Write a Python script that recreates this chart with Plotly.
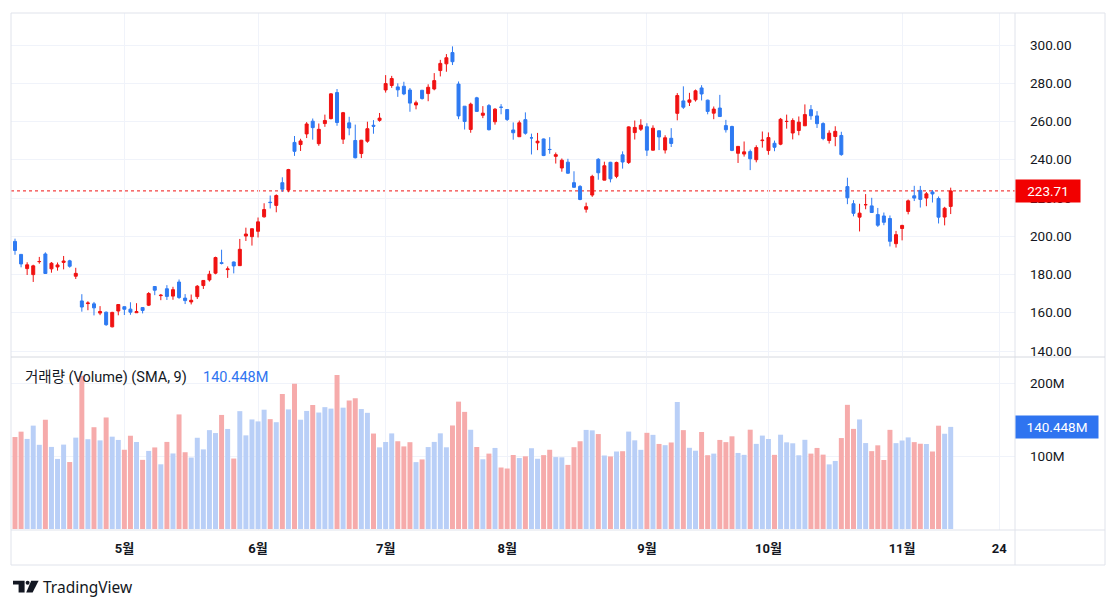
import plotly.graph_objects as go

# daily bars, 2023-04-04 .. 2023-11-13
dates = [
    "2023-04-04", "2023-04-05", "2023-04-06", "2023-04-10", "2023-04-11", "2023-04-12", "2023-04-13",
    "2023-04-14", "2023-04-17", "2023-04-18", "2023-04-19", "2023-04-20", "2023-04-21", "2023-04-24",
    "2023-04-25", "2023-04-26", "2023-04-27", "2023-04-28",
    "2023-05-01", "2023-05-02", "2023-05-03", "2023-05-04", "2023-05-05", "2023-05-08", "2023-05-09",
    "2023-05-10", "2023-05-11", "2023-05-12", "2023-05-15", "2023-05-16", "2023-05-17", "2023-05-18",
    "2023-05-19", "2023-05-22", "2023-05-23", "2023-05-24", "2023-05-25", "2023-05-26", "2023-05-30",
    "2023-05-31",
    "2023-06-01", "2023-06-02", "2023-06-05", "2023-06-06", "2023-06-07", "2023-06-08", "2023-06-09",
    "2023-06-12", "2023-06-13", "2023-06-14", "2023-06-15", "2023-06-16", "2023-06-20", "2023-06-21",
    "2023-06-22", "2023-06-23", "2023-06-26", "2023-06-27", "2023-06-28", "2023-06-29", "2023-06-30",
    "2023-07-03", "2023-07-05", "2023-07-06", "2023-07-07", "2023-07-10", "2023-07-11", "2023-07-12",
    "2023-07-13", "2023-07-14", "2023-07-17", "2023-07-18", "2023-07-19", "2023-07-20", "2023-07-21",
    "2023-07-24", "2023-07-25", "2023-07-26", "2023-07-27", "2023-07-28", "2023-07-31",
    "2023-08-01", "2023-08-02", "2023-08-03", "2023-08-04", "2023-08-07", "2023-08-08", "2023-08-09",
    "2023-08-10", "2023-08-11", "2023-08-14", "2023-08-15", "2023-08-16", "2023-08-17", "2023-08-18",
    "2023-08-21", "2023-08-22", "2023-08-23", "2023-08-24", "2023-08-25", "2023-08-28", "2023-08-29",
    "2023-08-30", "2023-08-31",
    "2023-09-01", "2023-09-05", "2023-09-06", "2023-09-07", "2023-09-08", "2023-09-11", "2023-09-12",
    "2023-09-13", "2023-09-14", "2023-09-15", "2023-09-18", "2023-09-19", "2023-09-20", "2023-09-21",
    "2023-09-22", "2023-09-25", "2023-09-26", "2023-09-27", "2023-09-28", "2023-09-29",
    "2023-10-02", "2023-10-03", "2023-10-04", "2023-10-05", "2023-10-06", "2023-10-09", "2023-10-10",
    "2023-10-11", "2023-10-12", "2023-10-13", "2023-10-16", "2023-10-17", "2023-10-18", "2023-10-19",
    "2023-10-20", "2023-10-23", "2023-10-24", "2023-10-25", "2023-10-26", "2023-10-27", "2023-10-30",
    "2023-10-31",
    "2023-11-01", "2023-11-02", "2023-11-03", "2023-11-06", "2023-11-07", "2023-11-08", "2023-11-09",
    "2023-11-10", "2023-11-13",
]

opens = [
    197.32, 190.52, 183.08, 179.94, 186.69, 190.74, 182.96, 183.95, 186.32, 187.15, 179.10, 166.17,
    164.80, 164.65, 159.82, 160.29, 152.64, 160.90,
    163.17, 161.88, 160.01, 162.71, 163.97, 173.72, 168.95, 172.55, 168.70, 176.07, 167.66, 165.65,
    168.41, 174.22, 177.17, 180.70, 186.20, 182.56, 186.54, 184.62, 200.10, 199.78,
    202.59, 210.15, 217.80, 216.14, 228.00, 224.22, 249.07, 247.94, 253.51, 260.17, 248.40, 258.92,
    261.50, 275.13, 250.77, 259.29, 250.07, 243.24, 249.70, 258.03, 260.60,
    276.49, 278.82, 278.09, 278.43, 276.47, 268.65, 276.33, 274.59, 277.01, 286.63, 290.15, 296.04,
    279.56, 268.00, 255.85, 272.38, 263.25, 268.31, 259.86, 267.48,
    266.26, 255.57, 252.04, 260.97, 251.45, 248.84, 250.87, 245.40, 241.77, 235.70, 238.73, 228.02,
    226.06, 214.12, 221.55, 240.25, 229.34, 238.66, 231.31, 242.58, 238.58, 254.20, 255.98,
    257.26, 245.00, 255.14, 245.07, 251.22, 264.27, 270.76, 270.07, 271.32, 277.55, 271.16, 264.35,
    267.04, 257.85, 257.40, 243.38, 242.98, 244.26, 240.02, 250.00,
    244.81, 248.61, 248.14, 260.00, 253.98, 255.31, 257.75, 266.20, 262.92, 258.90, 250.05, 252.14,
    252.70, 225.95, 217.01, 210.00, 216.50, 215.88, 211.32, 210.60, 209.28, 196.12,
    204.04, 212.97, 221.15, 223.98, 219.98, 223.15, 219.75, 210.03, 215.60,
]

highs = [
    198.74, 190.68, 186.39, 185.10, 189.19, 191.58, 186.50, 186.28, 189.69, 187.69, 183.50, 169.70,
    166.00, 165.65, 163.47, 160.67, 160.48, 164.33,
    163.28, 165.49, 165.00, 162.95, 170.79, 173.80, 169.82, 174.43, 173.57, 177.38, 169.76, 169.52,
    174.50, 177.06, 181.95, 189.32, 192.96, 184.22, 186.78, 198.60, 204.48, 203.95,
    209.80, 217.25, 221.29, 221.91, 230.83, 235.23, 252.42, 250.97, 259.68, 261.57, 258.95, 263.60,
    274.75, 276.99, 265.00, 262.45, 258.37, 250.39, 259.88, 260.74, 264.45,
    284.25, 283.85, 279.97, 280.78, 277.52, 270.90, 276.52, 279.45, 285.30, 292.23, 295.26, 299.29,
    280.93, 268.00, 269.85, 272.90, 268.04, 269.13, 267.00, 269.08,
    266.47, 259.52, 260.49, 264.77, 253.65, 254.03, 251.10, 251.80, 243.79, 240.66, 240.50, 233.97,
    226.74, 217.58, 232.13, 240.82, 238.98, 238.92, 239.00, 244.38, 257.48, 260.51, 261.18,
    259.08, 258.00, 255.39, 252.81, 256.52, 274.85, 278.39, 274.98, 276.71, 278.98, 271.44, 267.85,
    273.93, 260.86, 257.79, 247.10, 249.55, 245.33, 247.55, 254.77,
    254.28, 250.02, 261.86, 263.60, 261.65, 262.63, 268.94, 268.60, 265.41, 259.60, 255.40, 257.51,
    254.63, 230.61, 218.86, 216.98, 222.05, 220.10, 214.80, 212.41, 210.88, 202.80,
    205.99, 219.20, 226.37, 226.32, 223.12, 224.15, 220.80, 215.38, 225.40,
]

lows = [
    190.32, 183.76, 179.74, 176.11, 185.65, 180.31, 180.94, 182.01, 182.69, 183.58, 177.65, 160.56,
    161.32, 158.61, 158.75, 153.14, 152.37, 158.66,
    158.83, 158.93, 159.91, 159.65, 163.51, 169.19, 166.56, 166.68, 166.79, 167.23, 164.55, 164.35,
    167.19, 172.45, 176.31, 180.11, 185.26, 178.22, 180.58, 184.53, 197.53, 195.12,
    199.37, 209.75, 214.52, 212.53, 223.20, 223.01, 242.02, 244.59, 251.34, 250.50, 247.29, 257.21,
    261.12, 257.78, 248.25, 252.80, 240.70, 240.85, 248.89, 253.61, 259.89,
    275.11, 277.60, 272.88, 273.77, 265.10, 266.37, 271.46, 270.60, 276.31, 283.57, 286.01, 289.52,
    261.20, 255.80, 254.12, 265.00, 261.75, 255.30, 258.34, 263.78,
    260.25, 250.49, 252.00, 253.11, 242.76, 245.03, 241.90, 243.13, 238.02, 233.75, 232.61, 225.38,
    218.83, 212.36, 220.58, 229.55, 229.29, 228.18, 230.35, 235.35, 237.77, 250.59, 255.05,
    242.01, 244.86, 245.06, 243.27, 246.67, 260.61, 266.60, 268.10, 270.42, 271.00, 263.76, 261.20,
    262.46, 254.21, 244.48, 238.31, 241.66, 234.58, 238.65, 246.35,
    242.62, 244.45, 247.60, 256.25, 250.65, 252.81, 257.65, 260.90, 256.63, 250.22, 248.48, 247.08,
    242.08, 216.78, 210.42, 202.51, 214.11, 212.20, 204.88, 205.77, 194.67, 194.07,
    197.85, 211.45, 218.40, 215.00, 215.72, 217.64, 206.68, 205.69, 211.61,
]

closes = [
    192.58, 185.52, 185.06, 184.51, 186.79, 180.54, 185.90, 185.00, 187.04, 184.31, 180.59, 162.99,
    165.08, 162.55, 160.67, 153.75, 160.19, 164.31,
    161.83, 160.31, 160.61, 161.20, 170.06, 171.79, 169.15, 168.54, 172.08, 167.98, 166.35, 166.52,
    173.86, 176.89, 180.14, 188.87, 185.77, 182.90, 184.47, 193.17, 201.16, 203.93,
    207.52, 213.97, 217.61, 221.31, 224.57, 234.86, 244.40, 249.83, 258.71, 256.79, 255.90, 260.54,
    274.45, 259.46, 264.61, 256.60, 241.05, 250.21, 256.24, 257.50, 261.77,
    279.82, 282.48, 276.54, 274.43, 269.61, 269.79, 271.99, 277.90, 281.38, 290.38, 293.34, 291.26,
    262.90, 260.02, 269.06, 265.28, 264.35, 255.71, 266.44, 267.43,
    261.07, 254.11, 259.32, 253.86, 251.45, 249.70, 242.19, 245.34, 242.65, 239.76, 232.96, 225.60,
    219.22, 215.49, 231.28, 233.19, 236.86, 230.04, 238.59, 238.82, 257.18, 256.90, 258.08,
    245.01, 256.49, 251.92, 251.49, 248.50, 273.58, 267.48, 271.30, 276.04, 274.39, 265.28, 266.50,
    262.59, 255.70, 244.88, 246.99, 244.12, 240.50, 246.38, 250.22,
    251.60, 246.53, 261.16, 260.05, 260.53, 259.67, 263.62, 262.99, 258.87, 251.12, 253.92, 254.85,
    242.68, 220.11, 211.99, 212.08, 216.52, 212.42, 205.76, 207.30, 197.36, 200.84,
    205.66, 218.51, 219.96, 219.27, 222.18, 222.11, 209.98, 214.65, 223.71,
]

# volume, millions of shares
volumes = [
    126.5, 133.9, 123.9, 142.2, 115.8, 150.3, 112.9, 96.4, 116.1, 92.1, 125.7, 210.9,
    123.5, 140.0, 121.9, 153.4, 127.0, 122.5,
    109.0, 128.3, 119.7, 95.1, 107.4, 112.2, 89.0, 119.8, 103.9, 157.6, 105.6, 98.3,
    125.5, 109.5, 136.0, 132.0, 156.9, 137.6, 96.9, 162.1, 128.8, 150.7,
    148.0, 164.1, 151.1, 146.9, 185.7, 164.5, 199.9, 150.3, 162.4, 170.6, 160.2, 167.6,
    165.6, 211.8, 166.9, 176.6, 180.0, 165.0, 159.8, 131.3, 112.3,
    119.7, 131.5, 120.7, 113.6, 119.4, 92.0, 95.7, 112.7, 119.8, 131.6, 112.4, 142.4,
    175.2, 161.1, 136.5, 112.8, 95.9, 103.7, 111.5, 84.6,
    83.2, 101.8, 97.6, 100.0, 111.1, 96.6, 101.6, 109.0, 98.9, 98.6, 88.2, 112.5,
    120.7, 136.3, 135.7, 130.6, 101.1, 99.8, 106.6, 107.0, 134.0, 122.0, 108.9,
    132.3, 129.5, 117.0, 115.3, 119.0, 174.7, 136.0, 111.7, 107.7, 133.4, 101.5, 103.7,
    122.5, 119.5, 127.5, 104.6, 102.0, 136.6, 117.1, 128.5,
    123.8, 102.0, 129.7, 119.2, 117.9, 101.4, 122.7, 103.7, 111.5, 102.3, 88.9, 93.6,
    125.1, 170.8, 137.7, 150.7, 118.2, 107.1, 115.1, 94.9, 136.4, 118.1,
    121.7, 126.0, 119.5, 117.3, 116.9, 106.6, 142.1, 131.0, 140.448,
]

month_labels = ["5월", "6월", "7월", "8월", "9월", "10월", "11월"]
future_dates = ["2023-11-14", "2023-11-15", "2023-11-16", "2023-11-17",
                "2023-11-20", "2023-11-21", "2023-11-22", "2023-11-24"]
future_label = "24"
price_ticks = [140, 160, 180, 200, 220, 240, 260, 280, 300]
volume_ticks = [100, 200]

UP = "#f01212"
DOWN = "#2e7af2"
UP_VOL = "#b9cff7"
DOWN_VOL = "#f6abab"
GRID = "#f0f3fa"
FRAME = "#e0e3eb"
TEXT = "#131722"
FONT = "Roboto, Noto Sans CJK KR, sans-serif"

# the page body adds an 8px margin; pixel values below are screen pixels
OFF = 8
W, H = 1118 - OFF, 609 - OFF
L, R, T, B = 11, 1015, 13, 530


def px(x):
    return (x - L) / (R - L)


def py(y):
    return (B - y) / (B - T)


idx = list(range(len(dates)))
vol_colors = [DOWN_VOL if c < o else UP_VOL for o, c in zip(opens, closes)]

# month start positions
tickvals = []
prev = None
for i, d in enumerate(dates):
    m = d[5:7]
    if prev is not None and m != prev:
        tickvals.append(i)
    prev = m
ticktext = ["<b>%s</b>" % t for t in month_labels]
tickvals.append(len(dates) - 1 + len(future_dates))
ticktext.append("<b>%s</b>" % future_label)

fig = go.Figure()

fig.add_trace(go.Candlestick(
    x=idx, open=opens, high=highs, low=lows, close=closes,
    increasing=dict(line=dict(color=UP, width=1), fillcolor=UP),
    decreasing=dict(line=dict(color=DOWN, width=1), fillcolor=DOWN),
    whiskerwidth=0,
    xaxis="x", yaxis="y",
    showlegend=False,
))

fig.add_trace(go.Bar(
    x=idx, y=volumes, marker=dict(color=vol_colors, line=dict(width=0)),
    xaxis="x2", yaxis="y2",
    showlegend=False,
))

bar_px = 6.076
x_lo = -(15 - L) / bar_px
x_hi = x_lo + (R - L) / bar_px

axis_font = dict(family=FONT, size=13.5, color=TEXT)

fig.update_layout(
    width=W, height=H,
    margin=dict(l=L - OFF, r=W - (R - OFF), t=T - OFF, b=H - (B - OFF)),
    paper_bgcolor="white",
    plot_bgcolor="white",
    boxgap=0.3,
    bargap=0.18,
    font=axis_font,
    xaxis=dict(
        domain=[0, 1], anchor="y", range=[x_lo, x_hi],
        tickvals=tickvals, ticktext=ticktext, showticklabels=False,
        showgrid=True, gridcolor=GRID, zeroline=False, showline=False,
        rangeslider=dict(visible=False),
    ),
    xaxis2=dict(
        domain=[0, 1], anchor="y2", matches="x", range=[x_lo, x_hi],
        tickvals=tickvals, ticktext=ticktext, ticks="",
        showgrid=True, gridcolor=GRID, zeroline=False, showline=False,
        ticklabelstandoff=9,
        tickfont=dict(family=FONT, size=13, color=TEXT),
    ),
    yaxis=dict(
        domain=[py(356), 1], anchor="x", side="right",
        range=[140 - 5 / 1.9125, 300 + 32 / 1.9125],
        tickvals=price_ticks, ticktext=["%.2f" % v for v in price_ticks],
        showgrid=True, gridcolor=GRID, zeroline=False, showline=False,
        ticks="", ticklabelstandoff=14,
    ),
    yaxis2=dict(
        domain=[0, py(358)], anchor="x2", side="right",
        range=[-1 / 0.727, (529 - 358) / 0.727],
        tickvals=volume_ticks, ticktext=["%dM" % v for v in volume_ticks],
        showgrid=True, gridcolor=GRID, zeroline=False, showline=False,
        ticks="", ticklabelstandoff=14,
    ),
)

frame = dict(color=FRAME, width=1)
shapes = [
    dict(type="rect", xref="paper", yref="paper", x0=px(11), x1=px(1105), y0=py(565), y1=py(13),
         line=frame, layer="above"),
    dict(type="line", xref="paper", yref="paper", x0=1, x1=1, y0=py(565), y1=py(13),
         line=frame, layer="above"),
    dict(type="line", xref="paper", yref="paper", x0=0, x1=px(1105), y0=0, y1=0,
         line=frame, layer="above"),
    dict(type="line", xref="paper", yref="paper", x0=0, x1=px(1105), y0=py(357), y1=py(357),
         line=dict(color="#d6d9e0", width=1), layer="above"),
    # last price line
    dict(type="line", xref="paper", yref="y", x0=0, x1=1, y0=closes[-1], y1=closes[-1],
         line=dict(color=UP, width=1, dash="dot"), layer="between"),
    # TradingView logo
    dict(type="path", xref="paper", yref="paper", fillcolor=TEXT, line=dict(width=0),
         path="M %f %f L %f %f L %f %f L %f %f L %f %f L %f %f Z" % (
             px(13), py(580.7), px(24.6), py(580.7), px(24.6), py(592.6),
             px(18.6), py(592.6), px(18.6), py(584.6), px(13), py(584.6))),
    dict(type="circle", xref="paper", yref="paper", fillcolor=TEXT, line=dict(width=0),
         x0=px(25.6), x1=px(29.6), y0=py(584.8), y1=py(580.8)),
    dict(type="path", xref="paper", yref="paper", fillcolor=TEXT, line=dict(width=0),
         path="M %f %f L %f %f L %f %f L %f %f Z" % (
             px(31.2), py(580.7), px(38.6), py(580.7), px(32.6), py(592.6), px(26.2), py(592.6))),
]
fig.update_layout(shapes=shapes)

last_vol = volumes[-1]
annotations = [
    dict(xref="paper", yref="y", x=1, y=closes[-1], xanchor="left", yanchor="middle",
         text="%.2f" % closes[-1], showarrow=False, bgcolor="#f20000",
         font=dict(family=FONT, size=13.5, color="white"), width=58, borderpad=3, align="center"),
    dict(xref="paper", yref="y2", x=1, y=last_vol, xanchor="left", yanchor="middle",
         text="%.3fM" % last_vol, showarrow=False, bgcolor="#2f74f0",
         font=dict(family=FONT, size=13.5, color="white"), width=76, borderpad=3, align="center"),
    dict(xref="paper", yref="paper", x=px(23), y=py(377), xanchor="left", yanchor="middle",
         text="거래량 (Volume) (SMA, 9)", showarrow=False,
         font=dict(family=FONT, size=14.5, color=TEXT)),
    dict(xref="paper", yref="paper", x=px(201), y=py(377), xanchor="left", yanchor="middle",
         text="%.3fM" % last_vol, showarrow=False,
         font=dict(family=FONT, size=14.5, color="#2f74f0")),
    dict(xref="paper", yref="paper", x=px(41), y=py(587), xanchor="left", yanchor="middle",
         text="TradingView", showarrow=False,
         font=dict(family="Noto Sans, sans-serif", size=15.5, color=TEXT)),
]
fig.update_layout(annotations=annotations)

fig.write_html("out.html")
